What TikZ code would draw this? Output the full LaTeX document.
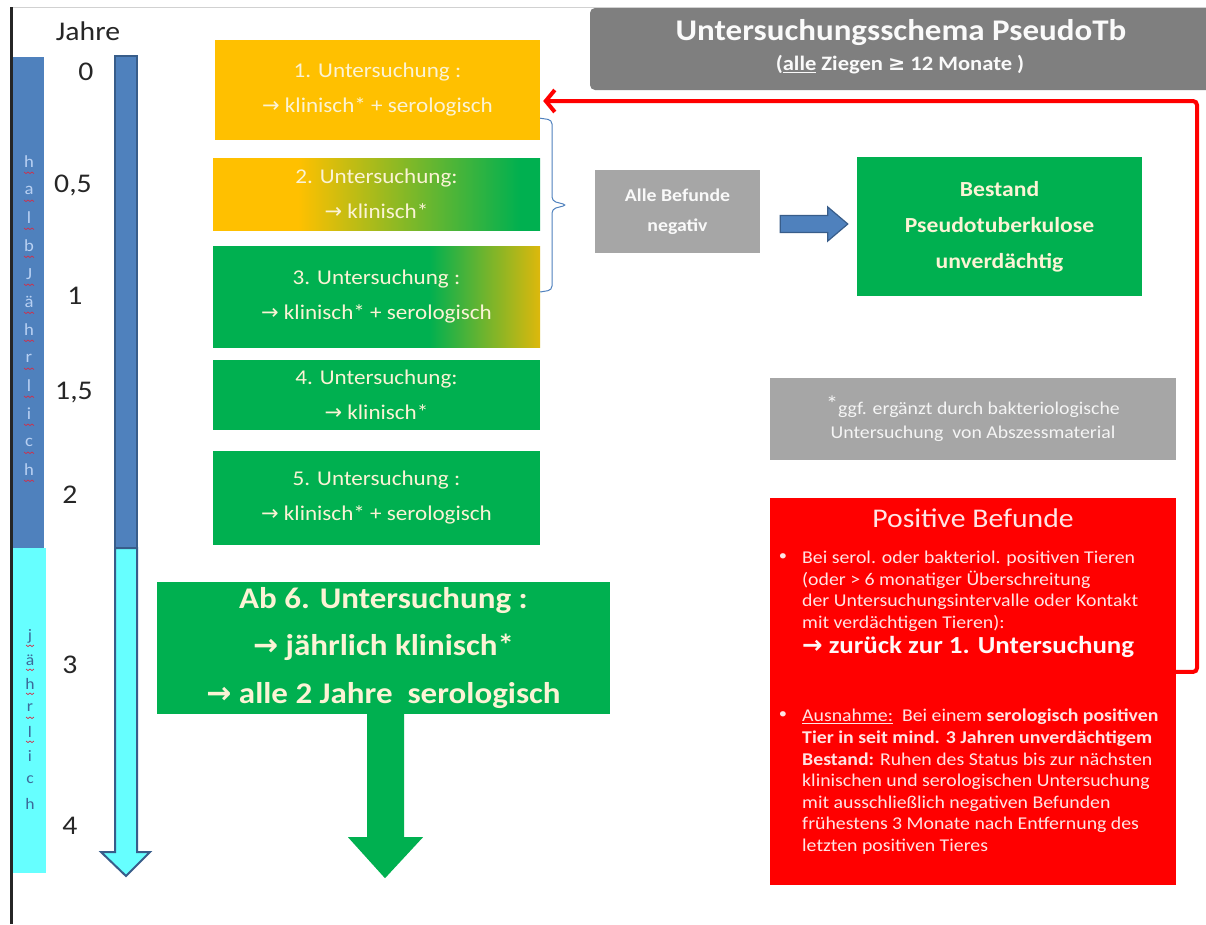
\documentclass[tikz,border=0pt]{standalone}
\usepackage{fontspec}
\setmainfont{Carlito}[FakeStretch=1.1]
\newfontfamily\symf{DejaVu Sans}
\usetikzlibrary{calc,arrows.meta}
\definecolor{cOrange}{HTML}{FFC000}
\definecolor{cGreen}{HTML}{00B050}
\definecolor{cYel}{HTML}{DDB80C}
\definecolor{cBlue}{HTML}{4F81BD}
\definecolor{cBlueD}{HTML}{385D8A}
\definecolor{cCyan}{HTML}{66FFFF}
\definecolor{cGrey}{HTML}{A6A6A6}
\definecolor{cTitle}{HTML}{7F7F7F}
\definecolor{cRed}{HTML}{FF0000}
\definecolor{cText}{HTML}{FBF3D5}
\definecolor{cPink}{HTML}{FFE4E4}
\definecolor{cLetA}{HTML}{B8D0F2}
\definecolor{cLetB}{HTML}{3D6A9A}
\definecolor{cSquig}{HTML}{D0304A}
\pgfdeclarehorizontalshading{otog}{100bp}{color(0bp)=(cOrange); color(38bp)=(cOrange); color(72bp)=(cGreen); color(100bp)=(cGreen)}
\pgfdeclarehorizontalshading{gtoy}{100bp}{color(0bp)=(cGreen); color(58bp)=(cGreen); color(75bp)=(cYel); color(100bp)=(cYel)}
\newcommand\rarr{{\symf\char"2192}}
\begin{document}
\begin{tikzpicture}[x=1pt,y=-1pt,
  stepbox/.style={minimum width=327pt, inner sep=0pt, align=center, text=cText, font=\fontsize{21}{35}\selectfont},
  yearlbl/.style={inner sep=0pt, font=\fontsize{27}{27}\selectfont, text=black!85},
  lettA/.style={inner sep=0pt, font=\fontsize{17}{17}\selectfont, text=cLetA},
  lettB/.style={inner sep=0pt, font=\fontsize{16}{16}\selectfont, text=cLetB},
  squig/.style={cSquig, line width=0.7pt},
  redtxt/.style={inner sep=0pt, anchor=north west, align=left, text=cPink, font=\fontsize{18}{21.6}\selectfont},
  bul/.style={inner sep=0pt, text=cPink, font=\fontsize{15}{15}\selectfont}]
\useasboundingbox (0,0) rectangle (1206,924);
\fill[white] (0,0) rectangle (1206,924);
% frame lines
\draw[black!18, line width=1pt] (12,7) -- (1206,7);
\draw[black!85, line width=3pt] (11,7) -- (11,924);
% side bars
\fill[cBlue] (13,57) rectangle (44,548);
\fill[cCyan] (13,548) rectangle (46,873);
\foreach \l [count=\i from 0] in {h,a,l,b,J,ä,h,r,l,i,c,h}{
  \node[lettA] at (29,162+28*\i) {\l};
  \draw[squig] (24,172+28*\i) -- ++(2,1.5) -- ++(2,-1.5) -- ++(2,1.5) -- ++(2,-1.5) -- ++(2,1.5);
}
\foreach \l [count=\i from 0] in {j,ä,h,r,l,i,c,h}
  \node[lettB] at (30,636+24*\i) {\l};
\foreach \i in {0,...,4}
  \draw[squig] (26,645+24*\i) -- ++(2,1.5) -- ++(2,-1.5) -- ++(2,1.5) -- ++(2,-1.5);
% years
\node[yearlbl] (jahre) at (88,31) {Jahre};
\node[yearlbl] (y0) at (86,72) {0};
\node[yearlbl] (y05) at (73,185) {0,5};
\node[yearlbl] (y1) at (75,296) {1};
\node[yearlbl] (y15) at (74,393) {1,5};
\node[yearlbl] (y2) at (70,495) {2};
\node[yearlbl] (y3) at (70,665) {3};
\node[yearlbl] (y4) at (70,826) {4};
% timeline arrow
\filldraw[fill=cCyan, draw=cBlueD, line width=2pt] (115,548) -- (137,548) -- (137,852) -- (150,852) -- (126,876) -- (101,852) -- (115,852) -- cycle;
\filldraw[fill=cBlue, draw=cBlueD, line width=2pt] (115,56) rectangle (137,548);
% step boxes
\node[stepbox, fill=cOrange, minimum width=325pt, minimum height=100pt] (b1) at (377.5,90) {1. Untersuchung :\\\rarr{} klinisch* + serologisch};
\node[stepbox, shading=otog, minimum height=72pt] (b2) at (376.5,194) {2. Untersuchung:\\\rarr{} klinisch*};
\node[stepbox, shading=gtoy, minimum height=101pt] (b3) at (376.5,296.5) {3. Untersuchung :\\\rarr{} klinisch* + serologisch};
\node[stepbox, fill=cGreen, minimum height=70pt] (b4) at (376.5,395) {4. Untersuchung:\\\rarr{} klinisch*};
\node[stepbox, fill=cGreen, minimum height=94pt] (b5) at (376.5,498) {5. Untersuchung :\\\rarr{} klinisch* + serologisch};
\node[fill=cGreen, minimum width=453pt, minimum height=132pt, inner sep=0pt, align=center, text=cText, font=\bfseries\fontsize{30}{47.5}\selectfont] (b6) at (383.5,648) {Ab 6. Untersuchung :\\\rarr{} jährlich klinisch*\\\rarr{} alle 2 Jahre\ \ serologisch};
% green down arrow
\fill[cGreen] ($(b6.south)+(-16.5,0)$) -- ++(0,123) -- ++(-19,0) -- ($(b6.south)+(1.5,164)$) -- ($(b6.south)+(39.5,123)$) -- ++(-19,0) -- ($(b6.south)+(20.5,0)$) -- cycle;
% brace
\draw[cBlue, line width=1pt, rounded corners=4pt] ($(b1.south east)+(0,-22)$) -- (552,120) -- (552,201) -- (567,205) -- (552,209) -- (552,290) -- ($(b3.east)+(0,-4.5)$);
% negative box & result
\node[fill=cGrey, minimum width=165pt, minimum height=83pt, inner sep=0pt, align=center, text=white!95!gray, font=\bfseries\fontsize{18}{30}\selectfont] (neg) at (677.5,211.5) {Alle Befunde\\negativ};
\node[fill=cGreen, minimum width=285pt, minimum height=139pt, inner sep=0pt, align=center, text=cText, font=\bfseries\fontsize{21.5}{36}\selectfont] (best) at (999.5,226.5) {Bestand\\Pseudotuberkulose\\unverdächtig};
\coordinate (aS) at ($(neg.east)+(20,12.5)$);
\coordinate (aE) at ($(best.west)+(-9,-2.5)$);
\filldraw[fill=cBlue, draw=cBlueD, line width=1.2pt] ($(aS)+(0,-8.5)$) -- ($(aE)+(-20,-8.5)$) -- ($(aE)+(-20,-17)$) -- (aE) -- ($(aE)+(-20,17)$) -- ($(aE)+(-20,8.5)$) -- ($(aS)+(0,8.5)$) -- cycle;
% title
\fill[cTitle, rounded corners=5pt] (590,8) rectangle (1212,90);
\node[inner sep=0pt, text=white!96!gray, font=\bfseries\fontsize{30}{30}\selectfont] (title) at (901,33) {Untersuchungsschema PseudoTb};
\node[inner sep=0pt, text=white!96!gray, font=\bfseries\fontsize{20.5}{20.5}\selectfont] (subtitle) at (900,65) {(\underline{alle} Ziegen {\symf\char"2265} 12 Monate )};
% note
\node[fill=cGrey, minimum width=406pt, minimum height=82pt, inner sep=0pt, align=center, text=white!92!gray, font=\fontsize{18}{24}\selectfont] (note) at (973,419) {\raisebox{3pt}{\fontsize{22}{22}\selectfont *}ggf. ergänzt durch bakteriologische\\Untersuchung\ \ von Abszessmaterial};
% red box
\node[fill=cRed, minimum width=406pt, minimum height=387pt, inner sep=0pt] (red) at (973,691.5) {};
\node[inner sep=0pt, text=cPink, font=\fontsize{27}{27}\selectfont] (ptitle) at (973,518) {Positive Befunde};
\node[bul] (bu1) at (783,557) {\textbullet};
\node[redtxt] (p1) at (802,551) {Bei serol. oder bakteriol. positiven Tieren\\(oder > 6 monatiger Überschreitung\\der Untersuchungsintervalle oder Kontakt\\mit verdächtigen Tieren):};
\node[inner sep=0pt, anchor=west, text=white!97!red, font=\bfseries\fontsize{24.5}{24.5}\selectfont] (p1b) at (802,647) {\rarr{} zurück zur 1. Untersuchung};
\node[bul] (bu2) at (783,715) {\textbullet};
\node[redtxt] (p2) at (802,709) {\underline{Ausnahme:}\ \ Bei einem \textbf{serologisch positiven}\\\textbf{Tier in seit mind. 3 Jahren unverdächtigem}\\\textbf{Bestand:} Ruhen des Status bis zur nächsten\\klinischen und serologischen Untersuchung\\mit ausschließlich negativen Befunden\\frühestens 3 Monate\ nach Entfernung\ des\\letzten positiven Tieres};
% red loop
\coordinate (rl) at ($(red.north east)+(0,174)$);
\draw[cRed, line width=4pt, rounded corners=4pt, -{Straight Barb[length=9pt, width=22pt]}] (rl) -- (1197,672) -- (1197,101) -- ($(b1.east)+(3,11)$);
\end{tikzpicture}
\end{document}
